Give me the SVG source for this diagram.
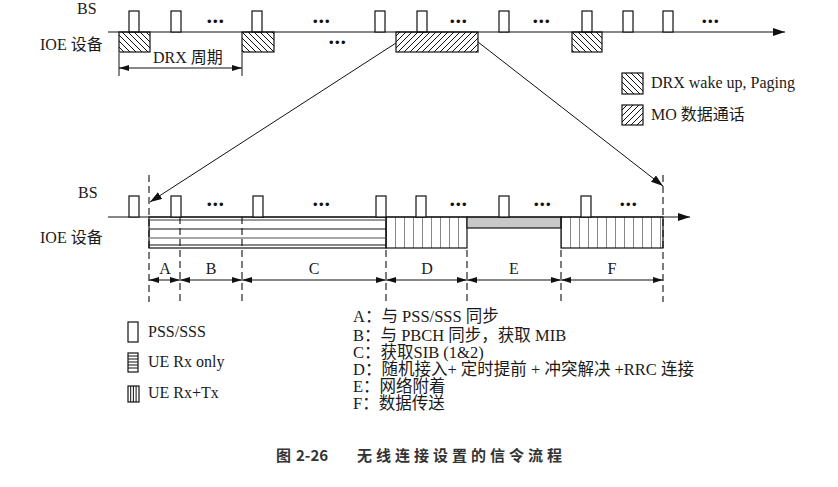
<svg xmlns="http://www.w3.org/2000/svg" width="838" height="487" viewBox="0 0 838 487">
<style>
text{font-family:"Liberation Serif","Noto Sans CJK SC",serif;font-size:16px;fill:#1a1a1a}
.dots{font-family:"Liberation Sans",sans-serif;font-size:13px;letter-spacing:1.5px;text-anchor:middle;fill:#111}
.pulse{fill:#fff;stroke:#111;stroke-width:1.2}
.ln{stroke:#111;stroke-width:1.2;fill:none}
.thin{stroke:#111;stroke-width:1;fill:none}
.dash{stroke:#111;stroke-width:1.1;stroke-dasharray:7,4;fill:none}
.mid{text-anchor:middle}
.desc{font-size:16.5px}
.cap{font-family:"Noto Sans CJK SC",sans-serif;font-size:15px;font-weight:700;fill:#333}
</style>
<defs>
<pattern id="hb" patternUnits="userSpaceOnUse" width="6" height="6">
<path d="M-1,-1 L7,7 M-1,5 L1,7 M5,-1 L7,1" stroke="#111" stroke-width="1"/>
</pattern>
<pattern id="hf" patternUnits="userSpaceOnUse" width="6" height="6">
<path d="M-1,7 L7,-1 M-1,1 L1,-1 M5,7 L7,5" stroke="#111" stroke-width="1"/>
</pattern>
<pattern id="vs" patternUnits="userSpaceOnUse" width="9" height="10" x="386" y="0">
<path d="M0,0 L0,10" stroke="#111" stroke-width="1"/>
</pattern>
<pattern id="vsf" patternUnits="userSpaceOnUse" width="9" height="10" x="561" y="0">
<path d="M0,0 L0,10" stroke="#111" stroke-width="1"/>
</pattern>
<marker id="ax" viewBox="0 0 12 8" refX="12" refY="4" markerWidth="12" markerHeight="8" markerUnits="userSpaceOnUse" orient="auto">
<path d="M0,0 L12,4 L0,8 z" fill="#111"/>
</marker>
<marker id="ah" viewBox="0 0 10 6" refX="10" refY="3" markerWidth="10" markerHeight="6" markerUnits="userSpaceOnUse" orient="auto-start-reverse">
<path d="M0,0 L10,3 L0,6 z" fill="#111"/>
</marker>
<marker id="ex" viewBox="0 0 12 8" refX="12" refY="4" markerWidth="12" markerHeight="8" markerUnits="userSpaceOnUse" orient="auto">
<path d="M0,0 L12,4 L0,8 z" fill="#111"/>
</marker>
</defs>
<rect width="838" height="487" fill="#fff"/>

<!-- Top timeline -->
<g id="top-timeline">
<text x="77" y="14">BS</text>
<text x="40" y="50">IOE 设备</text>
<line class="ln" x1="108" y1="32" x2="785" y2="32" marker-end="url(#ax)"/>
<g id="top-pulses">
<rect class="pulse" x="129" y="11" width="10" height="21"/>
<rect class="pulse" x="171" y="11" width="10" height="21"/>
<rect class="pulse" x="252" y="11" width="10" height="21"/>
<rect class="pulse" x="375" y="11" width="10" height="21"/>
<rect class="pulse" x="417" y="11" width="10" height="21"/>
<rect class="pulse" x="499" y="11" width="10" height="21"/>
<rect class="pulse" x="582" y="11" width="10" height="21"/>
<rect class="pulse" x="623" y="11" width="10" height="21"/>
<rect class="pulse" x="663" y="11" width="10" height="21"/>
</g>
<text class="dots" x="216" y="26">•••</text>
<text class="dots" x="322" y="26">•••</text>
<text class="dots" x="459" y="26">•••</text>
<text class="dots" x="542" y="26">•••</text>
<text class="dots" x="711" y="26">•••</text>
<text class="dots" x="338" y="47">•••</text>
<rect id="drx1" x="119" y="32" width="31" height="20" fill="url(#hb)" stroke="#111" stroke-width="1.2"/>
<rect id="drx2" x="242" y="32" width="32" height="20" fill="url(#hb)" stroke="#111" stroke-width="1.2"/>
<rect id="mo" x="396" y="32" width="82" height="20" fill="url(#hf)" stroke="#111" stroke-width="1.2"/>
<rect id="drx3" x="572" y="32" width="30" height="20" fill="url(#hb)" stroke="#111" stroke-width="1.2"/>
<text x="153" y="63">DRX 周期</text>
</g>

<!-- Legend top right -->
<g id="legend-top">
<rect x="622" y="73" width="21" height="21" fill="url(#hb)" stroke="#111" stroke-width="1.2"/>
<text x="651" y="88">DRX wake up, Paging</text>
<rect x="622" y="105" width="21" height="20" fill="url(#hf)" stroke="#111" stroke-width="1.2"/>
<text x="651" y="120">MO 数据通话</text>
</g>

<!-- Lower timeline -->
<g id="lower-timeline">
<text x="78" y="198">BS</text>
<text x="40" y="243">IOE 设备</text>
<g id="rx-only">
<rect x="149" y="217" width="237" height="31" fill="#fff" stroke="#111" stroke-width="1.2"/>
<line x1="149" y1="220" x2="386" y2="220" stroke="#999" stroke-width="2"/>
<line class="thin" x1="149" y1="229" x2="386" y2="229"/>
<line x1="149" y1="238" x2="386" y2="238" stroke="#888" stroke-width="1.5"/>
<line class="thin" x1="149" y1="245" x2="386" y2="245"/>
</g>
<g id="rx-tx-d">
<rect x="386" y="217" width="81" height="31" fill="url(#vs)" stroke="#111" stroke-width="1.2"/>
</g>
<g id="attach-e">
<rect x="467" y="217" width="94" height="11" fill="#c8c8c8" stroke="#111" stroke-width="1.2"/>
</g>
<g id="rx-tx-f">
<rect x="561" y="217" width="102" height="31" fill="url(#vsf)" stroke="#111" stroke-width="1.2"/>
</g>
<line class="ln" x1="108" y1="217" x2="690" y2="217" marker-end="url(#ax)"/>
<g id="lower-pulses">
<rect class="pulse" x="129" y="196" width="10" height="21"/>
<rect class="pulse" x="171" y="196" width="10" height="21"/>
<rect class="pulse" x="253" y="196" width="10" height="21"/>
<rect class="pulse" x="376" y="196" width="10" height="21"/>
<rect class="pulse" x="416" y="196" width="10" height="21"/>
<rect class="pulse" x="499" y="196" width="10" height="21"/>
<rect class="pulse" x="581" y="196" width="10" height="21"/>
</g>
<text class="dots" x="216" y="209">•••</text>
<text class="dots" x="322" y="209">•••</text>
<text class="dots" x="459" y="209">•••</text>
<text class="dots" x="543" y="209">•••</text>
<text class="dots" x="629" y="209">•••</text>
<g id="dashes">
<line class="dash" x1="149" y1="175" x2="149" y2="302"/>
<line class="dash" x1="180" y1="217" x2="180" y2="302"/>
<line class="dash" x1="242" y1="217" x2="242" y2="302"/>
<line class="dash" x1="386" y1="250" x2="386" y2="302"/>
<line class="dash" x1="467" y1="250" x2="467" y2="302"/>
<line class="dash" x1="561" y1="250" x2="561" y2="302"/>
<line class="dash" x1="663" y1="175" x2="663" y2="302"/>
</g>
<g id="phase-labels">
<text class="mid" x="165" y="274">A</text>
<text class="mid" x="211" y="274">B</text>
<text class="mid" x="314" y="274">C</text>
<text class="mid" x="427" y="274">D</text>
<text class="mid" x="514" y="274">E</text>
<text class="mid" x="612" y="274">F</text>
</g>
</g>

<!-- Connectors -->
<g id="connectors">
<line class="thin" x1="119" y1="53" x2="119" y2="76"/>
<line class="thin" x1="242" y1="53" x2="242" y2="76"/>
<line class="thin" x1="119" y1="68" x2="242" y2="68" marker-start="url(#ah)" marker-end="url(#ah)"/>
<line class="thin" x1="396" y1="43" x2="150" y2="202" marker-end="url(#ex)"/>
<line class="thin" x1="478" y1="42" x2="663" y2="186" marker-end="url(#ex)"/>
<line class="thin" x1="149" y1="280" x2="180" y2="280" marker-start="url(#ah)" marker-end="url(#ah)"/>
<line class="thin" x1="180" y1="280" x2="242" y2="280" marker-start="url(#ah)" marker-end="url(#ah)"/>
<line class="thin" x1="242" y1="280" x2="386" y2="280" marker-start="url(#ah)" marker-end="url(#ah)"/>
<line class="thin" x1="386" y1="280" x2="467" y2="280" marker-start="url(#ah)" marker-end="url(#ah)"/>
<line class="thin" x1="467" y1="280" x2="561" y2="280" marker-start="url(#ah)" marker-end="url(#ah)"/>
<line class="thin" x1="561" y1="280" x2="663" y2="280" marker-start="url(#ah)" marker-end="url(#ah)"/>
</g>

<!-- Legend bottom left -->
<g id="legend-bottom">
<rect class="pulse" x="128" y="322" width="10" height="20"/>
<text x="148" y="337">PSS/SSS</text>
<rect x="128" y="353" width="10" height="19" fill="#fff" stroke="#111" stroke-width="1.2"/>
<path class="thin" d="M128,356 H138 M128,359 H138 M128,362 H138 M128,365 H138 M128,368 H138"/>
<text x="148" y="367">UE Rx only</text>
<rect x="128" y="386" width="11" height="16" fill="#fff" stroke="#111" stroke-width="1.2"/>
<path class="thin" d="M130.7,386 V402 M133.4,386 V402 M136.1,386 V402"/>
<text x="148" y="398">UE Rx+Tx</text>
</g>

<!-- Phase descriptions -->
<g id="descriptions">
<text class="desc" x="353" y="322"><tspan x="353" y="322">A：与 PSS/SSS 同步</tspan><tspan x="353" y="341">B：与 PBCH 同步，获取 MIB</tspan><tspan x="353" y="358">C：获取SIB (1&amp;2)</tspan><tspan x="353" y="375">D：随机接入+ 定时提前 + 冲突解决 +RRC 连接</tspan><tspan x="353" y="392">E：网络附着</tspan><tspan x="353" y="409">F：数据传送</tspan></text>
</g>

<g id="caption">
<text class="cap" x="276" y="461">图</text>
<text class="cap" x="296" y="461">2-26</text>
<text class="cap" x="357" y="461" letter-spacing="4">无线连接设置的信令流程</text>
</g>
</svg>
